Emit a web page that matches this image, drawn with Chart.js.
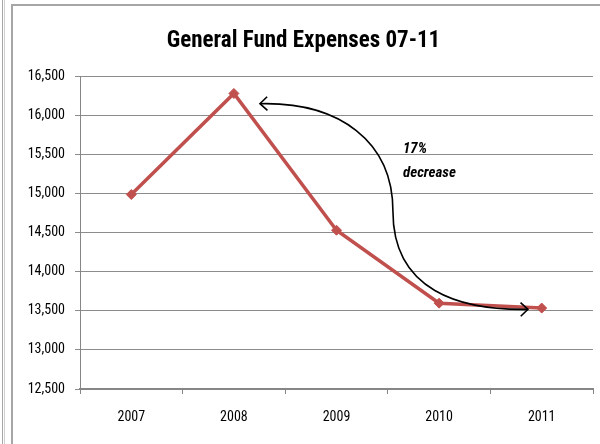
<!DOCTYPE html>
<html>
<head>
<meta charset="utf-8">
<script src="https://cdn.jsdelivr.net/npm/chart.js@4"></script>
<style>
  html, body { margin: 0; padding: 0; background: #fff; }
  #wrap { position: relative; width: 600px; height: 444px; overflow: hidden; }
  #edge { position: absolute; left: 2px; top: 0; width: 1px; height: 444px; border-left: 1px solid #a6a6a6; border-right: 1px solid #d0d0d0; }
  #frame { position: absolute; left: 11px; top: 4px; width: 640px; height: 500px; border: 2px solid #a6a6a6; border-right: none; border-bottom: none; }
  canvas { position: absolute; left: 0; top: 0; }
</style>
</head>
<body>
<div id="wrap">
  <div id="edge"></div>
  <div id="frame"></div>
  <canvas id="fundChart" width="600" height="444"></canvas>
</div>
<script>
const years = ['2007', '2008', '2009', '2010', '2011'];
const expenses = [14990, 16284, 14533, 13599, 13536];
const yTicks = [12500, 13000, 13500, 14000, 14500, 15000, 15500, 16000, 16500];

const fontFam = "'Liberation Sans Narrow', 'Roboto Condensed', 'Liberation Sans', sans-serif";

// curved arrow, in data units (category index, value)
const arrowPath = [
    [1.254, 16153], [2.03, 16178], [2.55, 15669], [2.55, 14776],
    [2.55, 13759], [3.20, 13507], [3.866, 13520]
];
const noteLines = ['17%', 'decrease'];
const notePos = [[2.648, 15568], [2.648, 15262]];

const arrowPlugin = {
    id: 'arrowNote',
    afterDatasetsDraw(chart) {
        const ctx = chart.ctx;
        const xs = chart.scales.x, ys = chart.scales.y;
        const p = arrowPath.map(a => [xs.getPixelForValue(a[0]), ys.getPixelForValue(a[1])]);
        ctx.save();
        ctx.strokeStyle = '#000';
        ctx.lineWidth = 1.6;
        ctx.beginPath();
        ctx.moveTo(p[0][0], p[0][1]);
        ctx.bezierCurveTo(p[1][0], p[1][1], p[2][0], p[2][1], p[3][0], p[3][1]);
        ctx.bezierCurveTo(p[4][0], p[4][1], p[5][0], p[5][1], p[6][0], p[6][1]);
        ctx.stroke();

        function head(tip, from) {
            const ang = Math.atan2(tip[1] - from[1], tip[0] - from[0]);
            const len = 10;
            ctx.beginPath();
            ctx.moveTo(tip[0] - len * Math.cos(ang - 0.75), tip[1] - len * Math.sin(ang - 0.75));
            ctx.lineTo(tip[0], tip[1]);
            ctx.lineTo(tip[0] - len * Math.cos(ang + 0.75), tip[1] - len * Math.sin(ang + 0.75));
            ctx.stroke();
        }
        head(p[0], p[1]);
        head(p[6], p[5]);

        ctx.fillStyle = '#000';
        ctx.font = 'italic bold 15px ' + fontFam;
        ctx.textAlign = 'left';
        ctx.textBaseline = 'middle';
        noteLines.forEach((t, i) => {
            ctx.fillText(t, xs.getPixelForValue(notePos[i][0]), ys.getPixelForValue(notePos[i][1]));
        });
        ctx.restore();
    }
};

const ctx = document.getElementById('fundChart').getContext('2d');
new Chart(ctx, {
    type: 'line',
    data: {
        labels: years,
        datasets: [{
            label: 'General Fund Expenses',
            data: expenses,
            borderColor: '#C0504D',
            backgroundColor: '#C0504D',
            borderWidth: 3.5,
            pointStyle: 'rectRot',
            pointRadius: 5,
            pointBorderWidth: 1,
            tension: 0
        }]
    },
    options: {
        responsive: false,
        animation: false,
        layout: { padding: { left: 14, right: 7, top: 0, bottom: 0 } },
        plugins: {
            legend: { display: false },
            tooltip: { enabled: false },
            title: {
                display: true,
                text: 'General Fund Expenses 07-11',
                color: '#000',
                font: { family: fontFam, size: 23, weight: 'bold' },
                padding: { top: 27, bottom: 22 }
            }
        },
        scales: {
            x: {
                offset: true,
                grid: { display: true, drawOnChartArea: false, color: '#868686', tickLength: 5, offset: true },
                border: { color: '#868686', width: 2 },
                ticks: { color: '#000', padding: 15, font: { family: fontFam, size: 14 } },
                afterFit(scale) { scale.height = 55; }
            },
            y: {
                min: 12500,
                max: 16500,
                afterBuildTicks(scale) { scale.ticks = yTicks.map(v => ({ value: v })); },
                grid: { color: '#8c8c8c', lineWidth: 1, tickLength: 5 },
                border: { color: '#868686', width: 1 },
                ticks: {
                    color: '#000',
                    padding: 10,
                    font: { family: fontFam, size: 14 },
                    callback: v => v.toLocaleString('en-US')
                },
                afterFit(scale) { scale.width = 66; }
            }
        }
    },
    plugins: [arrowPlugin]
});
</script>
</body>
</html>
